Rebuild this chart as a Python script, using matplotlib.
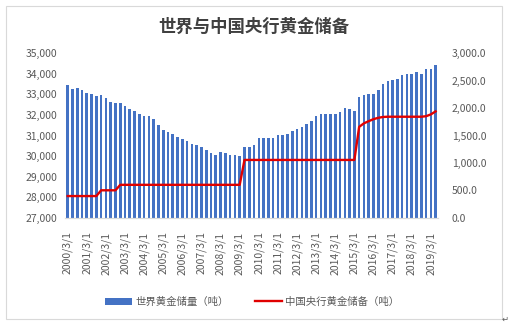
import numpy as np
import matplotlib.pyplot as plt
from matplotlib.patches import Rectangle

plt.rcParams['font.family'] = ['Noto Sans CJK SC', 'DejaVu Sans']

# 季度日期 (2000/3/1 ~ 2019/6/1)
datas = [f"{a}/{m}/1" for a in range(2000, 2020) for m in (3, 6, 9, 12)][:78]

# 世界黄金储量（吨）
mundo = [33470, 33260, 33310, 33230, 33070, 33000, 32940, 32990, 32820, 32640,
         32580, 32580, 32450, 32290, 32190, 32060, 31930, 31930, 31820, 31520,
         31280, 31150, 31080, 30920, 30820, 30730, 30600, 30550, 30460, 30300,
         30140, 30060, 30200, 30160, 30060, 30040, 30010, 30430, 30430, 30530,
         30870, 30870, 30870, 30870, 31020, 31040, 31070, 31200, 31330, 31410,
         31560, 31710, 31950, 32060, 32060, 32060, 32060, 32120, 32340, 32290,
         32200, 32850, 32950, 33030, 33030, 33230, 33520, 33630, 33720, 33760,
         33950, 34000, 34000, 34070, 34000, 34240, 34240, 34450]

# 中国央行黄金储备（吨）
china = [395] * 7 + [500] * 4 + [600] * 26 + [1054] * 24 + \
        [1658, 1722, 1762, 1798, 1823, 1838] + [1842.6] * 8 + [1852, 1885, 1940]

x = np.arange(len(datas))

fig = plt.figure(figsize=(5.08, 3.23), dpi=100)
fig.patches.append(Rectangle((6 / 508, 4 / 323), 496 / 508, 313 / 323,
                             transform=fig.transFigure, fill=False,
                             edgecolor='#D9D9D9', linewidth=0.8))

ax = fig.add_axes([65.3 / 508, 1 - 217.7 / 323, (438 - 65.3) / 508, (217.7 - 53.3) / 323])
ax.bar(x, mundo, width=0.55, color='#4472C4', label='世界黄金储量（吨）')
ax.set_ylim(27000, 35000)
ax.set_yticks(range(27000, 35001, 1000))
ax.yaxis.set_major_formatter(plt.FuncFormatter(lambda v, p: f"{v:,.0f}"))
ax.set_xlim(-0.5, len(datas) - 0.5)
ax.set_xticks(x[::4])
ax.set_xticklabels(datas[::4], rotation=90)

ax2 = ax.twinx()
ax2.plot(x, china, color='#E00000', linewidth=1.7, label='中国央行黄金储备（吨）')
ax2.set_ylim(0, 3000)
ax2.set_yticks(range(0, 3001, 500))
ax2.yaxis.set_major_formatter(plt.FuncFormatter(lambda v, p: f"{v:,.1f}"))

for a in (ax, ax2):
    for lado in ('top', 'left', 'right'):
        a.spines[lado].set_visible(False)
    a.spines['bottom'].set_color('#D9D9D9')
    a.tick_params(length=0, colors='#595959', labelsize=7.5)
ax.tick_params(axis='x', pad=10)
ax.tick_params(axis='y', pad=6)
ax2.tick_params(axis='y', pad=10)

fig.text(254 / 508, 1 - 27 / 323, '世界与中国央行黄金储备', ha='center', va='center',
         fontsize=12.5, fontweight='bold', color='#404040')

h1, l1 = ax.get_legend_handles_labels()
h2, l2 = ax2.get_legend_handles_labels()
fig.legend(h1 + h2, l1 + l2, loc='center', bbox_to_anchor=(252 / 508, 1 - 302 / 323),
           ncol=2, frameon=False, fontsize=7.5, labelcolor='#595959',
           handlelength=2.6, handletextpad=0.3, columnspacing=2.5)

fig.text(505 / 508, 1 - 319 / 323, '↵', ha='center', va='center', fontsize=6,
         color='#595959', family='DejaVu Sans')

fig.savefig('out.png', dpi=100)
